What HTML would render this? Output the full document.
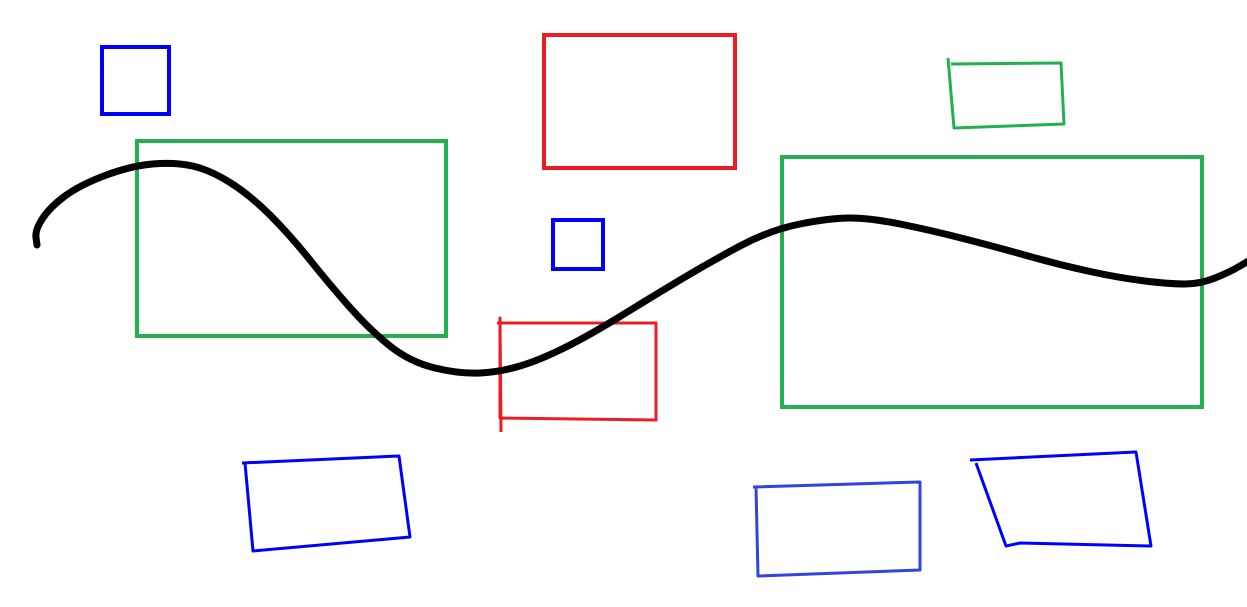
<!DOCTYPE html>
<html>
<head>
<meta charset="utf-8">
<style>
html,body{margin:0;padding:0;background:#fff;}
svg{display:block;}
</style>
</head>
<body>
<svg width="1247" height="607" viewBox="0 0 1247 607" xmlns="http://www.w3.org/2000/svg">
  <rect x="0" y="0" width="1247" height="607" fill="#fff"/>
  <rect x="102" y="47" width="67" height="67" fill="none" stroke="#0000ff" stroke-width="4"/>
  <rect x="137" y="141" width="309" height="195" fill="none" stroke="#22b14c" stroke-width="4"/>
  <rect x="544" y="35" width="191" height="133" fill="none" stroke="#ed1c24" stroke-width="4"/>
  <rect x="553" y="220" width="50" height="49" fill="none" stroke="#0000ff" stroke-width="4"/>
  <rect x="782" y="157" width="420" height="250" fill="none" stroke="#22b14c" stroke-width="4"/>
  <polyline points="497,323 656,323 656,420 500,418 500,318 501,432" fill="none" stroke="#ed1c24" stroke-width="3" stroke-linejoin="round"/>
  <polyline points="948,58 954,128 1064,124 1061,63 951,64" fill="none" stroke="#22b14c" stroke-width="3" stroke-linejoin="round"/>
  <polyline points="242,463 399,456 410,537 253,551 245,463" fill="none" stroke="#0000ff" stroke-width="3" stroke-linejoin="round"/>
  <polyline points="753,487 920,482 920,570 758,576 756,487" fill="none" stroke="#3344dd" stroke-width="3" stroke-linejoin="round"/>
  <polyline points="970,460 1136,452 1151,546 1020,543 1006,546 976,463" fill="none" stroke="#0000ff" stroke-width="3" stroke-linejoin="round"/>
  <path id="curve" fill="none" stroke="#000" stroke-width="7" stroke-linecap="round" stroke-linejoin="round"/>
</svg>
<script>
const curveX = [37,35,50,80,130,175,210,250,290,330,370,410,460,500,540,590,650,710,770,830,870,930,1000,1060,1120,1170,1200,1230,1250];
const curveY = [245,230,207,185,166,162,170,195,235,285,330,362,374,372,360,335,298,262,230,218,218,230,248,265,278,284,284,272,260];
(function(){
  let d = 'M' + curveX[0] + ',' + curveY[0];
  for (let i = 1; i < curveX.length; i++) {
    const x0 = curveX[i-1], y0 = curveY[i-1], x1 = curveX[i], y1 = curveY[i];
    const xm = (x0 + x1) / 2, ym = (y0 + y1) / 2;
    d += ' Q' + x0 + ',' + y0 + ' ' + xm + ',' + ym;
  }
  d += ' L' + curveX[curveX.length-1] + ',' + curveY[curveY.length-1];
  document.getElementById('curve').setAttribute('d', d);
})();
</script>
</body>
</html>
